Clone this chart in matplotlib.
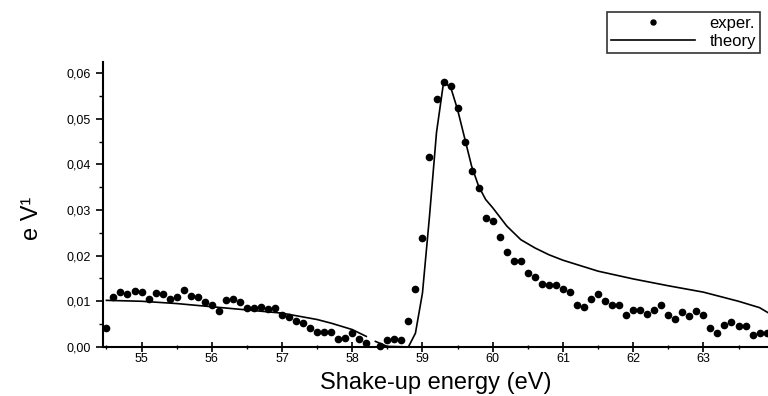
import matplotlib.pyplot as plt
import numpy as np
from matplotlib.ticker import MultipleLocator, FuncFormatter

plt.rcParams['font.family'] = ['Liberation Sans', 'DejaVu Sans']

# datos experimentales (paso 0.1 eV)
exp_x = [54.5, 54.6, 54.7, 54.8, 54.9, 55.0, 55.1, 55.2, 55.3, 55.4,
         55.5, 55.6, 55.7, 55.8, 55.9, 56.0, 56.1, 56.2, 56.3, 56.4,
         56.5, 56.6, 56.7, 56.8, 56.9, 57.0, 57.1, 57.2, 57.3, 57.4,
         57.5, 57.6, 57.7, 57.8, 57.9, 58.0, 58.1, 58.2, 58.4,
         58.5, 58.6, 58.7, 58.8, 58.9, 59.0, 59.1, 59.2, 59.3, 59.4,
         59.5, 59.6, 59.7, 59.8, 59.9, 60.0, 60.1, 60.2, 60.3, 60.4,
         60.5, 60.6, 60.7, 60.8, 60.9, 61.0, 61.1, 61.2, 61.3, 61.4,
         61.5, 61.6, 61.7, 61.8, 61.9, 62.0, 62.1, 62.2, 62.3, 62.4,
         62.5, 62.6, 62.7, 62.8, 62.9, 63.0, 63.1, 63.2, 63.3, 63.4,
         63.5, 63.6, 63.7, 63.8, 63.9]
exp_y = [0.0042, 0.0110, 0.0121, 0.0116, 0.0122, 0.0121, 0.0106, 0.0118, 0.0116, 0.0106,
         0.0110, 0.0124, 0.0111, 0.0110, 0.0099, 0.0091, 0.0078, 0.0102, 0.0106, 0.0099,
         0.0085, 0.0086, 0.0088, 0.0083, 0.0085, 0.0070, 0.0065, 0.0056, 0.0053, 0.0042,
         0.0032, 0.0032, 0.0032, 0.0018, 0.0020, 0.0031, 0.0018, 0.0009, 0.0001,
         0.0015, 0.0017, 0.0015, 0.0057, 0.0126, 0.0239, 0.0417, 0.0543, 0.0580, 0.0572,
         0.0523, 0.0449, 0.0386, 0.0348, 0.0283, 0.0275, 0.0241, 0.0209, 0.0188, 0.0189,
         0.0161, 0.0153, 0.0138, 0.0135, 0.0135, 0.0127, 0.0121, 0.0091, 0.0087, 0.0106,
         0.0117, 0.0100, 0.0091, 0.0091, 0.0069, 0.0080, 0.0080, 0.0073, 0.0080, 0.0091,
         0.0069, 0.0062, 0.0077, 0.0067, 0.0078, 0.0069, 0.0042, 0.0031, 0.0048, 0.0054,
         0.0045, 0.0045, 0.0025, 0.0031, 0.0031]

# curva teorica (nan = hueco)
th_x = [54.5, 55.0, 55.5, 56.0, 56.5, 57.0, 57.5, 57.7, 58.0, 58.2, 58.27,
        58.33, 58.5, 58.8, 58.9, 59.0, 59.1, 59.2, 59.3, 59.4, 59.5, 59.6,
        59.7, 59.8, 59.9, 60.0, 60.2, 60.4, 60.6, 60.8, 61.0, 61.5, 62.0,
        62.5, 63.0, 63.5, 63.8, 63.92]
th_y = [0.0102, 0.0100, 0.0095, 0.0088, 0.0081, 0.0074, 0.0060, 0.0052, 0.0038, 0.0023, np.nan,
        0.0012, 0.0001, 0.0000, 0.0030, 0.0118, 0.0286, 0.0470, 0.0579, 0.0570, 0.0520, 0.0458,
        0.0396, 0.0352, 0.0323, 0.0305, 0.0265, 0.0235, 0.0217, 0.0202, 0.0190, 0.0166, 0.0149,
        0.0134, 0.0120, 0.0100, 0.0086, 0.0075]

fig = plt.figure(figsize=(7.68, 3.96), dpi=100)
ax = fig.add_axes([0.134, 0.124, 0.866, 0.719])

ax.plot(exp_x, exp_y, 'o', color='black', markersize=4.5, label='exper.', clip_on=False)
ax.plot(th_x, th_y, '-', color='black', linewidth=1.2, label='theory')

ax.set_xlim(54.45, 63.92)
ax.set_ylim(0, 0.0624)

ax.spines['top'].set_visible(False)
ax.spines['right'].set_visible(False)
ax.spines['left'].set_linewidth(1.5)
ax.spines['bottom'].set_linewidth(1.5)

ax.xaxis.set_major_locator(MultipleLocator(1))
ax.xaxis.set_minor_locator(MultipleLocator(0.5))
ax.yaxis.set_major_locator(MultipleLocator(0.01))
ax.yaxis.set_minor_locator(MultipleLocator(0.005))
ax.yaxis.set_major_formatter(FuncFormatter(lambda v, p: ('%.2f' % v).replace('.', ',')))
ax.xaxis.set_major_formatter(FuncFormatter(lambda v, p: '%d' % round(v)))

ax.tick_params(axis='x', which='major', direction='inout', length=7, width=1.2, labelsize=9, pad=1)
ax.tick_params(axis='x', which='minor', direction='inout', length=3, width=1)
ax.tick_params(axis='y', which='major', direction='out', length=5, width=1.2, labelsize=9)
ax.tick_params(axis='y', which='minor', direction='out', length=3, width=1)

ax.set_xlabel('Shake-up energy (eV)', fontsize=17, labelpad=5)
ax.set_ylabel('e V¹', fontsize=17)
ax.yaxis.set_label_coords(-0.09, 0.45)

leg = fig.legend(loc='upper right', bbox_to_anchor=(0.99, 0.97), fontsize=12,
                 frameon=True, fancybox=False, edgecolor='black', handlelength=5.0,
                 markerscale=0.8, borderpad=0.25, labelspacing=0.15, handletextpad=0.9,
                 borderaxespad=0)
leg.get_frame().set_linewidth(1.2)

fig.savefig('out.png', dpi=100)
